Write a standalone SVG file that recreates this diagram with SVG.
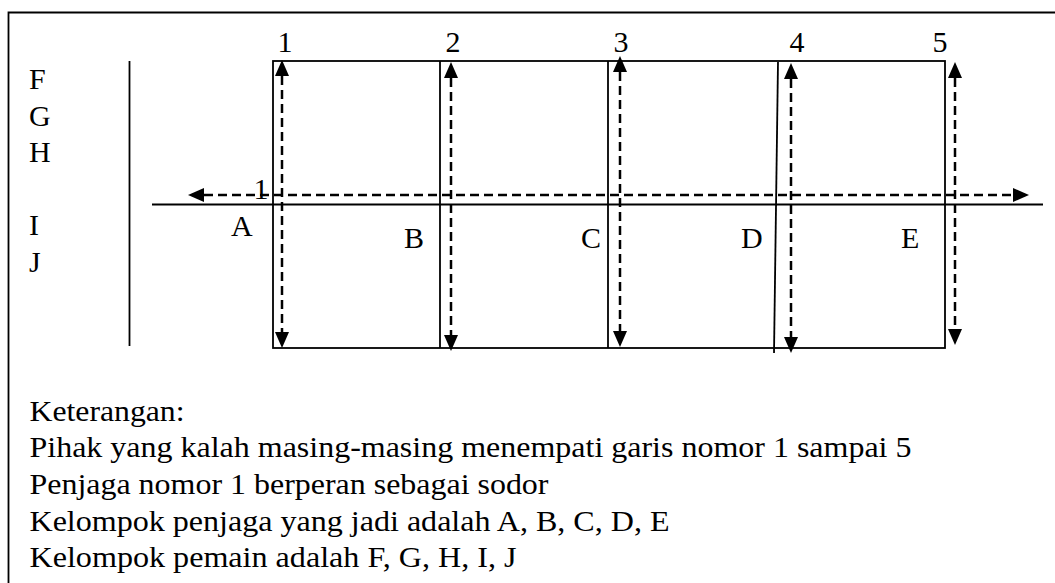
<svg xmlns="http://www.w3.org/2000/svg" width="1055" height="583" viewBox="0 0 1055 583">
<defs>
<marker id="ah" markerUnits="userSpaceOnUse" markerWidth="17" markerHeight="15" refX="0" refY="7" orient="auto-start-reverse" viewBox="0 0 17 14">
<path d="M0,0 L16,7 L0,14 z" fill="#000"/>
</marker>
</defs>
<style>
text{font-family:"Liberation Serif","Times New Roman",serif;font-size:30px;fill:#000}
.lg{font-size:28.5px}
.solid{stroke:#000;stroke-width:1.8;fill:none}
.dash{stroke:#000;stroke-width:2.5;stroke-dasharray:9 5;fill:none;marker-start:url(#ah);marker-end:url(#ah)}
.c{text-anchor:middle}
</style>
<rect width="1055" height="583" fill="#fff"/>
<g id="frame">
<path class="solid" d="M8.5,583 V12.5 H1055"/>
</g>
<g id="field">
<rect class="solid" x="273" y="61" width="672" height="287"/>
<line class="solid" x1="440" y1="61" x2="440" y2="348"/>
<line class="solid" x1="608" y1="61" x2="608" y2="348"/>
<line class="solid" x1="778" y1="62" x2="774" y2="353"/>
<line class="solid" x1="152" y1="204.5" x2="1043" y2="204.5"/>
<line class="solid" x1="129.5" y1="61" x2="129.5" y2="346"/>
</g>
<g id="connectors">
<line class="dash" x1="204" y1="195" x2="1013" y2="195"/>
<line class="dash" x1="282" y1="76" x2="282" y2="332"/>
<line class="dash" x1="451" y1="78" x2="451" y2="335"/>
<line class="dash" x1="620" y1="72" x2="620" y2="331"/>
<line class="dash" x1="791" y1="79" x2="791" y2="337"/>
<line class="dash" x1="955" y1="78" x2="955" y2="329"/>
</g>
<g id="numbers">
<text class="c" x="285" y="52">1</text>
<text class="c" x="453" y="52">2</text>
<text class="c" x="621" y="52">3</text>
<text class="c" x="797" y="52">4</text>
<text class="c" x="940" y="52">5</text>
<text class="c" x="261" y="199">1</text>
</g>
<g id="players">
<text x="29" y="89">F</text>
<text x="29" y="125.5">G</text>
<text x="29" y="162">H</text>
<text x="29" y="235">I</text>
<text x="29" y="271.5">J</text>
</g>
<g id="guards">
<text x="231" y="236">A</text>
<text x="404" y="248">B</text>
<text x="581" y="248">C</text>
<text x="741" y="248">D</text>
<text x="901" y="248">E</text>
</g>
<g id="legend">
<text class="lg" x="29.5" y="421" textLength="155" lengthAdjust="spacingAndGlyphs">Keterangan:</text>
<text class="lg" x="29.5" y="457" textLength="882" lengthAdjust="spacingAndGlyphs">Pihak yang kalah masing-masing menempati garis nomor 1 sampai 5</text>
<text class="lg" x="29.5" y="494" textLength="519" lengthAdjust="spacingAndGlyphs">Penjaga nomor 1 berperan sebagai sodor</text>
<text class="lg" x="29.5" y="530.5" textLength="640" lengthAdjust="spacingAndGlyphs">Kelompok penjaga yang jadi adalah A, B, C, D, E</text>
<text class="lg" x="29.5" y="567" textLength="487" lengthAdjust="spacingAndGlyphs">Kelompok pemain adalah F, G, H, I, J</text>
</g>
</svg>
